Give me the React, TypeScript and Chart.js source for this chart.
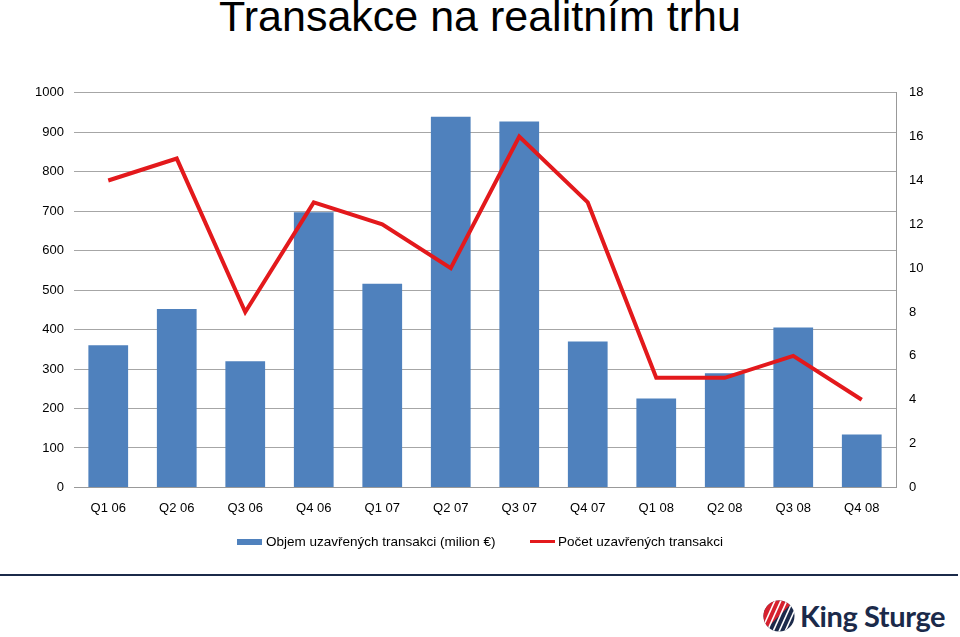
import React, { useEffect, useRef } from "react";
import { Chart, registerables } from "chart.js";

Chart.register(...registerables);

const TITLE = "Transakce na realitním trhu";
const CATEGORIES = ["Q1 06", "Q2 06", "Q3 06", "Q4 06", "Q1 07", "Q2 07", "Q3 07", "Q4 07", "Q1 08", "Q2 08", "Q3 08", "Q4 08"];
const VOLUME = [360, 452, 320, 697, 516, 939, 927, 370, 225, 289, 405, 134];
const COUNT = [14, 15, 8, 13, 12, 10, 16, 13, 5, 5, 6, 4];
const VOLUME_LABEL = "Objem uzavřených transakci (milion €)";
const COUNT_LABEL = "Počet uzavřených transakci";

const FONT = "'Liberation Sans', Arial, sans-serif";
const BLUE = "#4f81bd";
const RED = "#e3191c";

export default function App() {
  const ref = useRef<HTMLCanvasElement | null>(null);

  useEffect(() => {
    document.body.style.margin = "0";
    const chart = new Chart(ref.current!, {
      type: "bar",
      data: {
        labels: CATEGORIES,
        datasets: [
          {
            type: "line",
            label: COUNT_LABEL,
            data: COUNT,
            yAxisID: "y1",
            borderColor: RED,
            backgroundColor: RED,
            borderWidth: 4,
            pointRadius: 0,
            tension: 0,
            order: 0,
          },
          {
            type: "bar",
            label: VOLUME_LABEL,
            data: VOLUME,
            yAxisID: "y",
            backgroundColor: BLUE,
            barPercentage: 0.58,
            categoryPercentage: 1,
            order: 1,
          },
        ],
      },
      options: {
        animation: false,
        responsive: false,
        layout: { padding: { top: 0, left: 0, right: 0, bottom: 32 } },
        plugins: {
          title: { display: false },
          tooltip: { enabled: false },
          legend: { display: false },
        },
        scales: {
          x: {
            grid: { display: false },
            border: { display: true, color: "#999", width: 1 },
            ticks: { color: "#000", font: { family: FONT, size: 13 }, padding: 5, maxRotation: 0 },
          },
          y: {
            position: "left",
            min: 0,
            max: 1000,
            ticks: {
              stepSize: 100,
              color: "#000",
              font: { family: FONT, size: 13 },
              padding: 10,
              callback: (v: any) => String(v),
            },
            grid: { color: "#a6a6a6", drawTicks: false },
            border: { display: false },
            afterFit: (s: any) => { s.width = 74; },
          },
          y1: {
            position: "right",
            min: 0,
            max: 18,
            ticks: { stepSize: 2, color: "#000", font: { family: FONT, size: 13 }, padding: 8 },
            grid: { display: false, drawOnChartArea: false, drawTicks: true, tickLength: 5, color: "#999" },
            border: { display: true, color: "#999" },
            afterFit: (s: any) => { s.width = 64; },
          },
        },
      },
    });
    return () => chart.destroy();
  }, []);

  const legendText: React.CSSProperties = {
    position: "absolute",
    top: 533,
    fontFamily: FONT,
    fontSize: 13.5,
    lineHeight: "18px",
    color: "#000",
    whiteSpace: "nowrap",
  };

  return (
    <div style={{ position: "absolute", left: 0, top: 0, width: 960, height: 637, background: "#fff", overflow: "hidden" }}>
      <div
        style={{
          position: "absolute",
          left: 0,
          width: 960,
          top: -9,
          textAlign: "center",
          fontFamily: FONT,
          fontSize: 43,
          lineHeight: "50px",
          color: "#000",
        }}
      >
        {TITLE}
      </div>
      <canvas ref={ref} width={960} height={478} style={{ position: "absolute", left: 0, top: 75 }} />
      <div style={{ position: "absolute", left: 237, top: 539, width: 25, height: 6, background: BLUE }} />
      <div style={{ ...legendText, left: 266 }}>{VOLUME_LABEL}</div>
      <div style={{ position: "absolute", left: 530, top: 540, width: 25, height: 3, background: RED }} />
      <div style={{ ...legendText, left: 558 }}>{COUNT_LABEL}</div>
      <div style={{ position: "absolute", left: 0, top: 574, width: 958, height: 2, background: "#1b2a4a" }} />
      <div style={{ position: "absolute", left: 763, top: 600, display: "flex", alignItems: "center" }}>
        <svg width="32" height="32" viewBox="0 0 32 32">
          <defs>
            <clipPath id="c">
              <circle cx="16" cy="16" r="15.5" />
            </clipPath>
          </defs>
          <g clipPath="url(#c)">
            <rect x="0" y="0" width="32" height="32" fill="#1b2a4a" />
            <polygon points="0,0 32,0 0,32" fill="#d7212e" />
            {[0, 1, 2, 3, 4, 5, 6].map((i) => (
              <line key={i} x1={-4 + i * 6} y1={36} x2={14 + i * 6} y2={-4} stroke="#fff" strokeWidth="1.6" />
            ))}
          </g>
        </svg>
        <span
          style={{
            marginLeft: 5,
            fontFamily: "Lato, 'Open Sans', sans-serif",
            fontWeight: 700,
            fontSize: 29,
            letterSpacing: -0.4,
            color: "#1b2a4a",
            lineHeight: "32px",
          }}
        >
          King Sturge
        </span>
      </div>
    </div>
  );
}
